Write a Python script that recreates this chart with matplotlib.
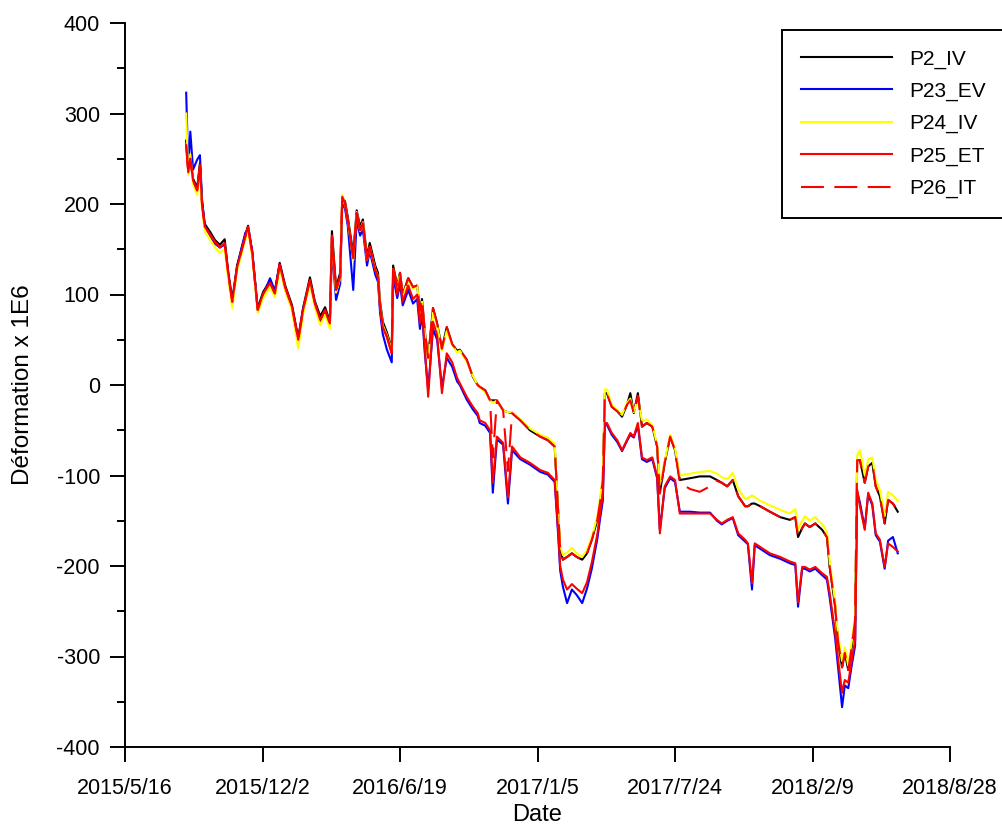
import numpy as np
import matplotlib
matplotlib.use('Agg')
import matplotlib.pyplot as plt

plt.rcParams['font.family'] = ['Liberation Sans', 'DejaVu Sans']
plt.rcParams['axes.unicode_minus'] = False

# days counted from 2015-05-16
start = np.datetime64('2015-05-16')
days = [89, 92, 95, 99, 105, 109, 112, 116, 124, 131, 138, 145, 150, 156, 163, 170, 175, 179, 185,
        193, 201, 211, 218, 225, 233, 243, 252, 259, 269, 276, 284, 291, 298, 301, 307, 313, 316,
        320, 324, 332, 337, 342, 346, 352, 356, 364, 368, 371, 375, 381, 388, 390,
        396, 400, 404, 412, 419, 425, 429, 432, 436, 441, 448, 454, 461, 468, 476, 483, 487, 497,
        506, 513, 516, 524, 531, 535, 541, 550, 557, 563, 575, 589, 604, 615, 625,
        630, 633, 637, 643, 650, 657, 665, 672, 679, 687, 691, 695, 698, 701, 708, 716, 723, 730,
        735, 740, 746, 752, 759, 767, 774, 778, 785, 793, 800, 807, 822, 836, 851, 861, 868, 876,
        884, 892, 902, 906, 912, 916, 924, 938, 953, 967, 975, 979, 985, 989, 996, 1004, 1014,
        1021, 1025, 1033, 1037, 1043, 1047, 1052, 1057, 1062, 1065, 1069, 1076, 1081, 1087, 1092,
        1098, 1105, 1110, 1117, 1124]

p2_iv = [270, 238, 252, 228, 218, 245, 203, 178, 169, 160, 155, 161, 126, 94, 132, 152, 166, 176, 148,
         85, 103, 115, 103, 135, 110, 88, 52, 85, 119, 93, 76, 86, 70, 170, 108, 124, 206,
         203, 186, 145, 193, 175, 183, 142, 157, 132, 124, 92, 70, 58, 40, 132,
         110, 124, 100, 118, 108, 110, 82, 95, 60, 30, 85, 68, 40, 64, 45, 38, 39, 28,
         9, 0, -2, -6, -17, -17, -17, -28, -30, -31, -39, -50, -57, -61, -68,
         -140, -182, -193, -190, -186, -190, -193, -186, -171, -149, -130, -105, -9, -9, -24, -29, -35, -22,
         -9, -31, -9, -46, -42, -46, -68, -119, -86, -57, -72, -105, -103, -101, -101, -105, -108, -112,
         -105, -123, -134, -134, -131, -131, -134, -140, -146, -149, -146, -168, -158, -153, -157, -153, -160,
         -168, -201, -245, -282, -312, -296, -315, -290, -260, -83, -83, -108, -90, -86, -112,
         -123, -153, -127, -131, -140]

p23_ev = [323, 240, 280, 238, 249, 254, 205, 176, 165, 156, 152, 155, 123, 91, 130, 153, 168, 172, 148,
          83, 100, 118, 104, 134, 106, 85, 50, 84, 114, 90, 70, 80, 66, 150, 94, 112, 200,
          195, 176, 105, 182, 165, 172, 132, 148, 122, 114, 80, 56, 39, 25, 120,
          96, 112, 88, 105, 90, 95, 62, 80, 36, -5, 62, 50, -3, 30, 20, 4, 0, -16,
          -27, -34, -42, -45, -53, -119, -60, -66, -131, -72, -82, -88, -96, -99, -107,
          -165, -205, -223, -241, -226, -232, -241, -225, -203, -170, -148, -128, -42, -44, -55, -63, -73, -62,
          -55, -58, -45, -82, -85, -82, -103, -160, -114, -103, -107, -140, -140, -141, -141, -150, -154, -150,
          -147, -166, -173, -176, -226, -177, -181, -188, -192, -197, -199, -245, -203, -203, -206, -203, -210,
          -215, -235, -280, -310, -356, -332, -335, -310, -288, -118, -130, -158, -121, -133, -166,
          -173, -203, -172, -168, -186]

p24_iv = [300, 232, 255, 222, 210, 238, 195, 170, 160, 152, 146, 150, 118, 85, 126, 146, 160, 172, 142,
          80, 96, 108, 97, 128, 104, 82, 40, 78, 112, 86, 66, 78, 62, 160, 102, 118, 210,
          200, 182, 138, 191, 170, 180, 138, 152, 128, 120, 88, 66, 55, 38, 128,
          108, 122, 98, 116, 106, 110, 80, 92, 58, 28, 80, 66, 38, 60, 44, 36, 38, 26,
          10, 0, -2, -8, -17, -20, -17, -28, -30, -30, -38, -48, -55, -58, -65,
          -138, -178, -188, -185, -180, -186, -190, -182, -168, -145, -126, -100, -5, -5, -22, -28, -33, -20,
          -15, -30, -15, -40, -38, -44, -66, -110, -84, -55, -70, -100, -98, -96, -95, -98, -102, -104,
          -97, -115, -126, -125, -122, -124, -128, -133, -138, -142, -137, -160, -150, -145, -150, -146, -154,
          -162, -195, -240, -275, -305, -290, -310, -284, -255, -78, -72, -100, -82, -80, -105,
          -116, -145, -118, -122, -128]

p25_et = [265, 235, 250, 226, 215, 243, 200, 175, 166, 158, 152, 157, 124, 92, 130, 150, 164, 175, 146,
          83, 101, 113, 101, 133, 108, 86, 50, 83, 116, 91, 72, 83, 68, 165, 105, 120, 208,
          201, 182, 140, 190, 171, 179, 138, 153, 127, 119, 86, 64, 53, 35, 128,
          100, 118, 92, 110, 95, 100, 68, 85, 42, -13, 70, 55, -9, 35, 25, 8, 2, -13,
          -24, -31, -39, -42, -50, -108, -57, -64, -124, -68, -80, -86, -94, -97, -105,
          -160, -200, -215, -226, -220, -225, -230, -218, -196, -165, -142, -122, -42, -42, -53, -61, -72, -61,
          -53, -57, -42, -80, -83, -80, -101, -164, -112, -101, -105, -142, -142, -142, -142, -149, -153, -149,
          -146, -164, -171, -175, -219, -175, -179, -186, -190, -195, -197, -240, -201, -201, -204, -201, -208,
          -212, -230, -274, -301, -340, -326, -329, -304, -282, -116, -134, -160, -119, -131, -164,
          -171, -201, -175, -179, -184]

p26_it = [265, 234, 250, 226, 215, 243, 200, 175, 166, 158, 152, 157, 124, 92, 130, 150, 164, 175, 146,
          83, 101, 113, 101, 133, 108, 86, 50, 83, 116, 91, 72, 83, 68, 165, 105, 120, 208,
          201, 182, 140, 190, 171, 179, 138, 153, 127, 119, 86, 64, 53, 35, 128,
          110, 124, 100, 118, 108, 110, 82, 95, 60, 30, 85, 68, 40, 64, 45, 38, 39, 28,
          9, 0, -2, -6, -17, -80, -17, -28, -95, -31, -39, -50, -57, -61, -68,
          -140, -182, -193, -190, -186, -190, -193, -186, -171, -149, -130, -105, -9, -10, -24, -29, -35, -22,
          -17, -31, -12, -46, -42, -46, -68, -120, -86, -57, -72, -108, -115, -118, -112, -106, -108, -112,
          -105, -123, -134, -134, -131, -131, -134, -140, -146, -149, -146, -168, -158, -153, -157, -153, -160,
          -168, -201, -245, -282, -312, -296, -315, -290, -260, -83, -83, -108, -90, -86, -112,
          -123, -153, -127, -131, -138]

tick_dates = ['2015-05-16', '2015-12-02', '2016-06-19', '2017-01-05', '2017-07-24', '2018-02-09', '2018-08-28']
tick_labels = ['2015/5/16', '2015/12/2', '2016/6/19', '2017/1/5', '2017/7/24', '2018/2/9', '2018/8/28']

x = start + np.array(days, dtype='timedelta64[D]')

fig = plt.figure(figsize=(10.03, 8.27), dpi=100)
ax = fig.add_axes([125/1003, 1-747/827, 825/1003, 724/827])

lw = 1.5
ax.plot(x, p2_iv, color='black', lw=lw, label='P2_IV')
ax.plot(x, p23_ev, color='blue', lw=lw, label='P23_EV')
ax.plot(x, p24_iv, color='yellow', lw=lw, label='P24_IV')
ax.plot(x, p25_et, color='red', lw=lw, label='P25_ET')
ax.plot(x, p26_it, color='red', lw=lw, dashes=(11, 5), label='P26_IT')

ticks = np.array(tick_dates, dtype='datetime64[D]')
ax.set_xlim(ticks[0], ticks[-1])
ax.set_xticks(ticks)
ax.set_xticklabels(tick_labels)
ax.set_ylim(-400, 400)
ax.set_yticks(np.arange(-400, 401, 100))
ax.set_yticks(np.arange(-350, 400, 100), minor=True)

for s in ['top', 'right']:
    ax.spines[s].set_visible(False)
for s in ['left', 'bottom']:
    ax.spines[s].set_linewidth(1.4)

ax.tick_params(axis='both', which='major', length=11, width=1.4, labelsize=15.5, direction='out')
ax.tick_params(axis='y', which='minor', length=6, width=1.4)
ax.tick_params(axis='x', pad=11)
ax.tick_params(axis='y', pad=7)

ax.set_xlabel('Date', fontsize=17, labelpad=4)
ax.set_ylabel('Déformation x 1E6', fontsize=17.5, labelpad=16)

leg = ax.legend(loc='upper left', bbox_to_anchor=(782/1003, 1-30/827), bbox_transform=fig.transFigure,
                borderaxespad=0, fancybox=False, edgecolor='black', framealpha=1,
                fontsize=15, handlelength=4.35, handletextpad=0.85,
                labelspacing=0.63, borderpad=0.93)
leg.get_frame().set_linewidth(1.4)

fig.savefig('out.png', dpi=100)
